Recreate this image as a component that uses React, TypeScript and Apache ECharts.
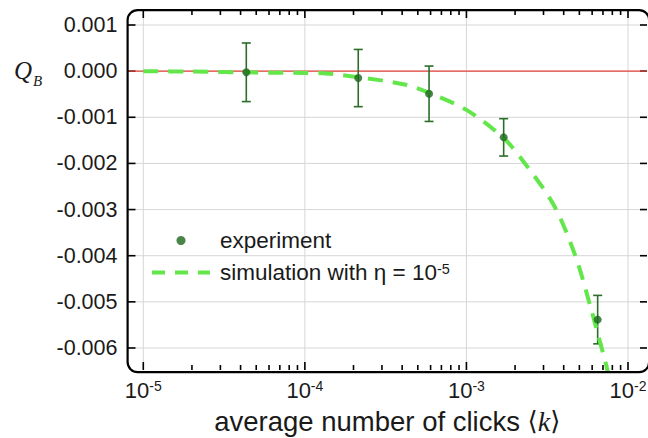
import React, { useEffect, useRef } from 'react';
import * as echarts from 'echarts';

// experiment: average number of clicks <k>, Q_B and its error
const expK = [4.34e-5, 2.14e-4, 5.87e-4, 1.7e-3, 6.49e-3];
const expQ = [-0.000025, -0.00015, -0.00049, -0.001435, -0.005385];
const expErr = [0.000635, 0.00062, 0.0006, 0.000405, 0.000525];

// simulation with eta = 1e-5
const simK = [1e-5, 2e-5, 5e-5, 1e-4, 1.35e-4, 2.14e-4, 4.15e-4, 5.87e-4, 1e-3, 1.7e-3, 2.3e-3, 3.47e-3, 4.72e-3, 5.85e-3, 7.24e-3, 7.6e-3];
const simQ = [0, -0.00001, -0.00003, -0.00004, -0.00005, -0.00013, -0.00029, -0.00047, -0.00084, -0.00145, -0.002, -0.0029, -0.004, -0.0051, -0.0063, -0.0066];

// ticks
const xMajorTicks = [1e-5, 1e-4, 1e-3, 1e-2];
const xMinorTicks = [
  2e-5, 3e-5, 4e-5, 5e-5, 6e-5, 7e-5, 8e-5, 9e-5,
  2e-4, 3e-4, 4e-4, 5e-4, 6e-4, 7e-4, 8e-4, 9e-4,
  2e-3, 3e-3, 4e-3, 5e-3, 6e-3, 7e-3, 8e-3, 9e-3,
];
const yTicks = [-0.006, -0.005, -0.004, -0.003, -0.002, -0.001, 0, 0.001];

const X_MIN = 7.984e-6;
const X_MAX = 1.311e-2;
const Y_MIN = -0.006477;
const Y_MAX = 0.001325;

const SANS = '"Liberation Sans", Arial, Helvetica, sans-serif';
const SERIF = '"Liberation Serif", "DejaVu Serif", serif';
const TXT = '#1a1a1a';
const GRIDC = '#d6d6d6';
const INK = 'rgb(0,0,0)';

export default function App() {
  const ref = useRef<HTMLDivElement>(null);

  useEffect(() => {
    if (!ref.current) return;
    const chart = echarts.init(ref.current, undefined, { renderer: 'svg' });

    const tickStyle = () => ({ stroke: INK, lineWidth: 1.6 });

    const xTickRender = (len: number, withGrid: boolean) => (params: any, api: any) => {
      const cs = params.coordSys;
      const px = api.coord([api.value(0), 0])[0];
      const top = cs.y;
      const bot = cs.y + cs.height;
      const children: any[] = [];
      if (withGrid) {
        children.push({ type: 'line', shape: { x1: px, y1: top, x2: px, y2: bot }, style: { stroke: GRIDC, lineWidth: 1 } });
      }
      children.push({ type: 'line', shape: { x1: px, y1: bot, x2: px, y2: bot - len }, style: tickStyle() });
      children.push({ type: 'line', shape: { x1: px, y1: top, x2: px, y2: top + len }, style: tickStyle() });
      return { type: 'group', children };
    };

    const option: any = {
      animation: false,
      backgroundColor: '#ffffff',
      grid: {
        left: 127.5,
        top: 10,
        right: 1,
        bottom: 68,
        containLabel: false,
        outerBoundsMode: 'none',
      },
      xAxis: {
        type: 'log',
        logBase: 10,
        min: X_MIN,
        max: X_MAX,
        position: 'bottom',
        axisLine: { show: false, onZero: false },
        axisTick: { show: false },
        minorTick: { show: false },
        splitLine: { show: false },
        axisLabel: {
          show: true,
          customValues: xMajorTicks,
          margin: 9,
          fontSize: 22,
          fontFamily: SANS,
          color: TXT,
          formatter: (v: number) => '10{s|' + Math.round(Math.log10(v)) + '}',
          rich: { s: { fontSize: 14, fontFamily: SANS, color: TXT, verticalAlign: 'top' } },
        },
        name: 'average number of clicks {a|⟨}{k|k}{a|⟩}',
        nameLocation: 'middle',
        nameGap: 37,
        nameTextStyle: {
          fontSize: 27.5,
          fontFamily: SANS,
          color: TXT,
          rich: {
            k: { fontSize: 28, fontFamily: SERIF, fontStyle: 'italic', color: TXT },
            a: { fontSize: 26, fontFamily: SERIF, color: TXT },
          },
        },
      },
      yAxis: {
        type: 'value',
        min: Y_MIN,
        max: Y_MAX,
        position: 'left',
        axisLine: { show: false, onZero: false },
        axisTick: { show: false },
        splitLine: { show: false },
        axisLabel: {
          customValues: yTicks,
          margin: 10,
          fontSize: 21.5,
          fontFamily: SANS,
          color: TXT,
          formatter: (v: number) => v.toFixed(3),
        },
      },
      legend: {
        orient: 'vertical',
        left: 150,
        top: 229,
        itemWidth: 58,
        itemHeight: 9,
        itemGap: 9,
        padding: 0,
        data: [
          { name: 'experiment', icon: 'circle' },
          {
            name: 'simulation',
            lineStyle: { width: 4, type: [13, 10], cap: 'butt', color: '#62e64a' },
            itemStyle: { opacity: 0 },
          },
        ],
        formatter: (name: string) => (name === 'experiment' ? 'experiment' : 'simulation with η = 10{s|-5}'),
        textStyle: {
          fontSize: 22.5,
          fontFamily: SANS,
          color: TXT,
          padding: [0, 0, 0, 5],
          rich: { s: { fontSize: 14.5, fontFamily: SANS, color: TXT, verticalAlign: 'top' } },
        },
      },
      series: [
        {
          name: 'xgrid',
          type: 'custom',
          data: xMajorTicks.map((v) => [v, 0]),
          encode: { x: 0, y: 1 },
          renderItem: xTickRender(8, true),
          silent: true,
          clip: false,
          z: 0,
        },
        {
          name: 'xminor',
          type: 'custom',
          data: xMinorTicks.map((v) => [v, 0]),
          encode: { x: 0, y: 1 },
          renderItem: xTickRender(5, false),
          silent: true,
          clip: false,
          z: 0,
        },
        {
          name: 'ygrid',
          type: 'custom',
          data: yTicks.map((v) => [X_MIN, v]),
          encode: { x: 0, y: 1 },
          renderItem: (params: any, api: any) => {
            const cs = params.coordSys;
            const py = api.coord([X_MIN, api.value(1)])[1];
            const l = cs.x;
            const r = cs.x + cs.width;
            return {
              type: 'group',
              children: [
                { type: 'line', shape: { x1: l, y1: py, x2: r, y2: py }, style: { stroke: GRIDC, lineWidth: 1 } },
                { type: 'line', shape: { x1: l, y1: py, x2: l + 8, y2: py }, style: tickStyle() },
                { type: 'line', shape: { x1: r, y1: py, x2: r - 7, y2: py }, style: tickStyle() },
              ],
            };
          },
          silent: true,
          clip: false,
          z: 0,
        },
        {
          name: 'zero',
          type: 'line',
          data: [[X_MIN, 0], [X_MAX, 0]],
          symbol: 'none',
          lineStyle: { color: '#e5453b', width: 1.2 },
          z: 1,
          silent: true,
        },
        {
          name: 'errorbars',
          type: 'custom',
          data: expK.map((k, i) => [k, expQ[i] - expErr[i], expQ[i] + expErr[i]]),
          encode: { x: 0, y: [1, 2] },
          z: 2,
          renderItem: (params: any, api: any) => {
            const x = api.value(0);
            const lo = api.coord([x, api.value(1)]);
            const hi = api.coord([x, api.value(2)]);
            const hw = 4.5;
            const style = { stroke: '#2a6e2a', lineWidth: 1.6 };
            return {
              type: 'group',
              children: [
                { type: 'line', shape: { x1: lo[0], y1: lo[1], x2: hi[0], y2: hi[1] }, style },
                { type: 'line', shape: { x1: hi[0] - hw, y1: hi[1], x2: hi[0] + hw, y2: hi[1] }, style },
                { type: 'line', shape: { x1: lo[0] - hw, y1: lo[1], x2: lo[0] + hw, y2: lo[1] }, style },
              ],
            };
          },
        },
        {
          name: 'simulation',
          type: 'line',
          data: simK.map((k, i) => [k, simQ[i]]),
          symbol: 'none',
          showSymbol: false,
          smooth: 0.3,
          clip: true,
          color: '#62e64a',
          lineStyle: { color: '#62e64a', width: 4, type: [15, 10], cap: 'butt' },
          z: 3,
        },
        {
          name: 'experiment',
          type: 'scatter',
          data: expK.map((k, i) => [k, expQ[i]]),
          symbol: 'circle',
          symbolSize: 8,
          itemStyle: { color: '#1b661b' },
          z: 4,
        },
      ],
      graphic: [
        {
          type: 'rect',
          left: 126.5,
          top: 9,
          shape: { width: 521.5, height: 362, r: 10 },
          style: { fill: 'transparent', stroke: 'black', lineWidth: 2.2 },
          silent: true,
          z: 50,
        },
        {
          type: 'text',
          x: 14,
          y: 70,
          style: { text: 'Q', fontSize: 25, fontStyle: 'italic', fontFamily: SERIF, fill: TXT, verticalAlign: 'middle' },
          silent: true,
        },
        {
          type: 'text',
          x: 33,
          y: 81,
          style: { text: 'B', fontSize: 15, fontStyle: 'italic', fontFamily: SERIF, fill: TXT, verticalAlign: 'middle' },
          silent: true,
        },
      ],
    };

    chart.setOption(option);
    return () => chart.dispose();
  }, []);

  return (
    <div
      ref={ref}
      style={{ position: 'fixed', left: 0, top: 0, width: 648, height: 438, background: '#ffffff' }}
    />
  );
}
